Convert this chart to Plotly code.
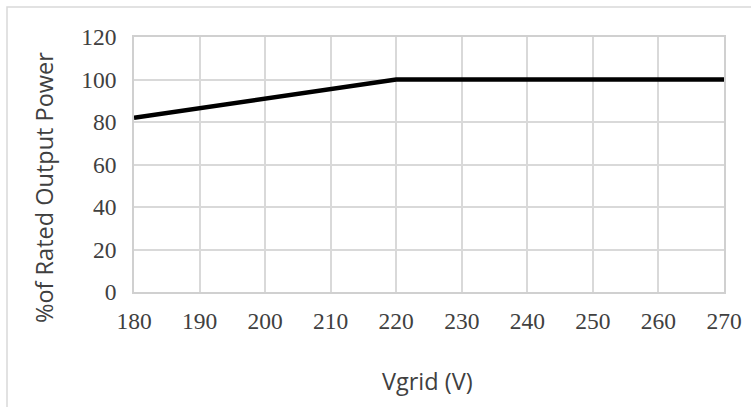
import plotly.graph_objects as go

vgrid = [180, 220, 270]
power_pct = [82, 100, 100]
x_ticks = [180, 190, 200, 210, 220, 230, 240, 250, 260, 270]
y_ticks = [0, 20, 40, 60, 80, 100, 120]

W, H = 751, 407
L, R, T, B = 134, 27, 37, 115
pw, ph = W - L - R, H - T - B

def px(x):
    return (x - L) / pw

def py(y):
    return (H - B - y) / ph

fig = go.Figure()
fig.add_trace(go.Scatter(x=vgrid, y=power_pct, mode="lines",
                         line=dict(color="black", width=4.5), showlegend=False,
                         cliponaxis=False, hoverinfo="skip"))

serif = "Liberation Serif, DejaVu Serif, serif"
sans = "Open Sans, Liberation Sans, sans-serif"

fig.update_layout(
    width=W, height=H,
    margin=dict(l=L, r=R, t=T, b=B, autoexpand=False),
    paper_bgcolor="white", plot_bgcolor="white",
    xaxis=dict(range=[180, 270], tickvals=x_ticks, ticktext=[str(v) for v in x_ticks],
               showgrid=True, gridcolor="#d9d9d9", gridwidth=1.5,
               showline=True, linecolor="#d0d0d0", linewidth=1.5, mirror=True,
               zeroline=False, ticks="", ticklabelstandoff=7, automargin=False,
               tickfont=dict(family=serif, size=23.5, color="#404040")),
    yaxis=dict(range=[0, 120], tickvals=y_ticks, ticktext=[str(v) for v in y_ticks],
               showgrid=True, gridcolor="#d9d9d9", gridwidth=1.5,
               showline=True, linecolor="#d0d0d0", linewidth=1.5, mirror=True,
               zeroline=False, ticks="", ticklabelstandoff=11, automargin=False,
               tickfont=dict(family=serif, size=23.5, color="#404040")),
    shapes=[dict(type="rect", xref="paper", yref="paper",
                 x0=px(7), x1=px(760), y0=py(420), y1=py(7),
                 line=dict(color="#d9d9d9", width=1.5), layer="below")],
    annotations=[
        dict(text="Vgrid (V)", xref="paper", yref="paper", x=px(427), y=py(381),
             showarrow=False, xanchor="center", yanchor="middle",
             font=dict(family=sans, size=23.5, color="#404040")),
        dict(text="%of Rated Output Power", xref="paper", yref="paper", x=px(44), y=py(188),
             showarrow=False, textangle=-90, xanchor="center", yanchor="middle",
             font=dict(family=sans, size=23.5, color="#404040")),
    ],
)

fig.write_html("out.html", config={"displayModeBar": False},
               post_script="document.body.style.margin='0';")
